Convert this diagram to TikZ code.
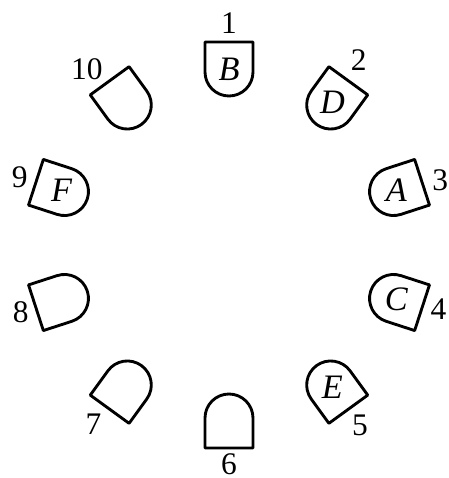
\documentclass[tikz,border=0pt]{standalone}
\usepackage{fontspec}
\setmainfont{Liberation Serif}
\usetikzlibrary{positioning}

\begin{document}
\begin{tikzpicture}[
        x=0.35pt, y=0.35pt,
        every node/.style={inner sep=0pt, font=\fontsize{11}{13}\selectfont},
        bullet/.style={draw, line width=1pt, line join=round},
        letter/.style={font=\fontsize{12}{14}\selectfont\itshape}
    ]
    \useasboundingbox (-229,-233) rectangle (219,245);
    % seats round the table, flat side outwards
    \foreach \n [evaluate=\n as \ang using 90-36*(\n-1)] in {1,...,10} {
        \coordinate (s\n) at (\ang:176);
        \draw[bullet, shift={(s\n)}, rotate=\ang]
            (27,-24) -- (27,24) -- (-3,24)
            arc[start angle=90, end angle=270, radius=24] -- cycle;
    }
    % seat numbers
    \foreach \n/\a/\r in {1/90/222, 2/55/226, 3/17/221, 4/-17/219, 5/-54/223,
                          6/-90/219, 7/-127/225, 8/-162/219, 9/162/220, 10/129/226}
        \node (n\n) at (\a:\r) {\n};
    \foreach \n/\l in {1/B, 2/D, 3/A, 4/C, 5/E, 9/F}
        \node[letter] (l\n) at (s\n) {\l};
\end{tikzpicture}
\end{document}
